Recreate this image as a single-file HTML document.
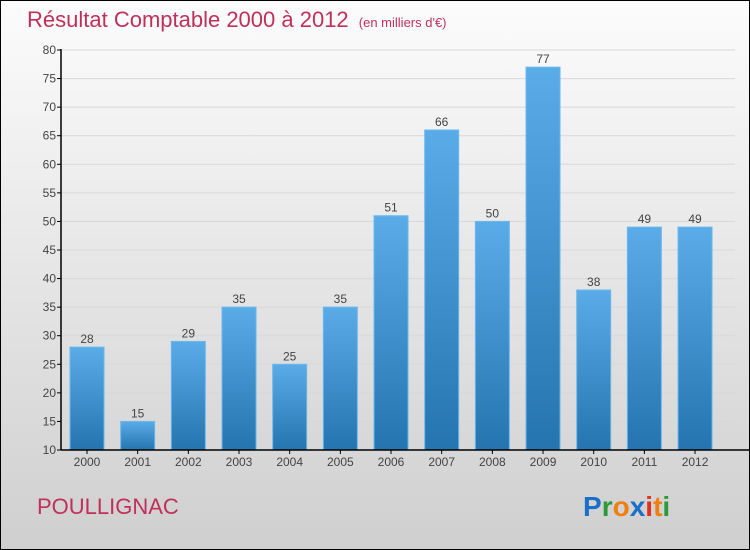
<!DOCTYPE html>
<html><head><meta charset="utf-8"><style>
body{margin:0;width:750px;height:550px;overflow:hidden;font-family:"Liberation Sans",sans-serif}
svg{display:block}
</style></head><body>
<svg width="750" height="550">
<defs>
<linearGradient id="bg" x1="0" y1="0" x2="0" y2="1"><stop offset="0" stop-color="#fcfcfc"/><stop offset="1" stop-color="#cfcfcf"/></linearGradient>
<linearGradient id="bar" x1="0" y1="0" x2="0" y2="1"><stop offset="0" stop-color="#5aace8"/><stop offset="1" stop-color="#2574b0"/></linearGradient>
</defs>
<rect x="0.5" y="0.5" width="749" height="549" fill="url(#bg)" stroke="#000"/>
<text x="27" y="27" font-size="22" fill="#c0305a">Résultat Comptable 2000 à 2012 <tspan font-size="13" dx="4">(en milliers d'€)</tspan></text>
<g id="axes"></g>
<g id="bars"></g>
<text x="37" y="514" font-size="22" fill="#c0305a">POULLIGNAC</text>
<g font-size="28" font-weight="bold">
<text x="583" y="516"><tspan fill="#1a6fc8">P</tspan><tspan fill="#2a9a3a">r</tspan><tspan fill="#f07f10">o</tspan><tspan fill="#1a6fc8">x</tspan><tspan fill="#e03020">i</tspan><tspan fill="#f07f10">t</tspan><tspan fill="#2a9a3a">i</tspan></text>
</g>
</svg>
<script>
const years=["2000","2001","2002","2003","2004","2005","2006","2007","2008","2009","2010","2011","2012"];
const values=[28,15,29,35,25,35,51,66,50,77,38,49,49];
const yTicks=[10,15,20,25,30,35,40,45,50,55,60,65,70,75,80];
const NS="http://www.w3.org/2000/svg";
const y0=450,y1=50,vMin=10,vMax=80,xStart=61,step=50.67,bw=34;
const y=v=>y0-(v-vMin)/(vMax-vMin)*(y0-y1);
const xc=i=>xStart+26+i*step;
function mk(t,a,p){const e=document.createElementNS(NS,t);for(const k in a)e.setAttribute(k,a[k]);p.appendChild(e);return e;}
const ax=document.getElementById('axes'),bg=document.getElementById('bars');
for(const t of yTicks){
 const g=mk('line',{x1:61,x2:735,y1:y(t),y2:y(t),stroke:'#d8d8d8','stroke-width':1},ax);
 
 
 const tk=mk('line',{x1:57,x2:61,y1:y(t),y2:y(t),stroke:'#000'},ax);
 
 
 const l=mk('text',{x:56,y:y(t)+4,'text-anchor':'end','font-size':12,fill:'#444'},ax);
 l.textContent=t;
 
 
}
values.forEach((v,i)=>{
 const r=mk('rect',{x:xc(i)-bw/2,y:y(v),width:bw,height:y0-y(v),fill:'url(#bar)',stroke:'#6ab8ee','stroke-width':1},bg);
 
 
 const t=mk('text',{x:xc(i),y:y(v)-4,'text-anchor':'middle','font-size':12,fill:'#444'},bg);
 t.textContent=v;
 
 
 const xl=mk('text',{x:xc(i),y:y0+16,'text-anchor':'middle','font-size':12,fill:'#444'},bg);
 xl.textContent=years[i];
 
 
 const xt=mk('line',{x1:xc(i),x2:xc(i),y1:y0,y2:y0+4,stroke:'#000'},bg);
 
 
});
const ya=mk('line',{x1:61,x2:61,y1:y(80)-1,y2:y0,stroke:'#000','stroke-width':1.5},ax);


const xa=mk('line',{x1:61,x2:749,y1:y0,y2:y0,stroke:'#000','stroke-width':1.5},bg);


</script>
</body></html>
